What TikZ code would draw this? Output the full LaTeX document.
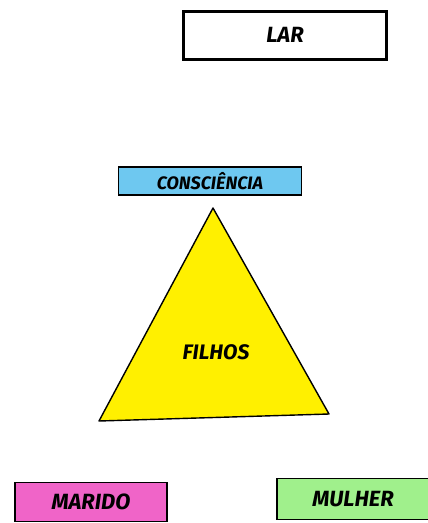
\documentclass[tikz,border=0pt]{standalone}
\usepackage{fontspec}
\setsansfont{Fira Sans}
\usetikzlibrary{positioning}
\definecolor{ceu}{RGB}{110,200,240}
\definecolor{rosa}{RGB}{240,100,200}
\definecolor{verde}{RGB}{160,240,140}
\definecolor{amarelo}{RGB}{255,240,0}

\begin{document}
\begin{tikzpicture}[x=1pt, y=-1pt,
    caixa/.style={rectangle, draw, line width=1.6pt, inner sep=0pt, font=\sffamily\itshape\bfseries\fontsize{22}{24}\selectfont},
    thick
]
    \useasboundingbox (0,0) rectangle (428,523);

    \node[caixa, line width=3pt, minimum width=203pt, minimum height=48pt] (lar) at (285,35) {LAR};
    \node[caixa, fill=ceu, minimum width=183pt, minimum height=28pt, font=\sffamily\itshape\bfseries\fontsize{18}{20}\selectfont] (consc) at (210,181) {CONSCIÊNCIA};

    % Triangulo
    \coordinate (topo) at (213,208);
    \coordinate (esq) at (99,421);
    \coordinate (dir) at (329,414);
    \draw[fill=amarelo, line width=1.4pt, line join=round] (topo) -- (dir) -- (esq) -- cycle;
    \node[font=\sffamily\itshape\bfseries\fontsize{21}{24}\selectfont] (filhos) at (216,352) {FILHOS};

    \node[caixa, fill=rosa, minimum width=152pt, minimum height=39pt] (marido) at (91,502) {MARIDO};
    \node[caixa, fill=verde, minimum width=152pt, minimum height=41pt] (mulher) at (353,499) {MULHER};
\end{tikzpicture}
\end{document}
